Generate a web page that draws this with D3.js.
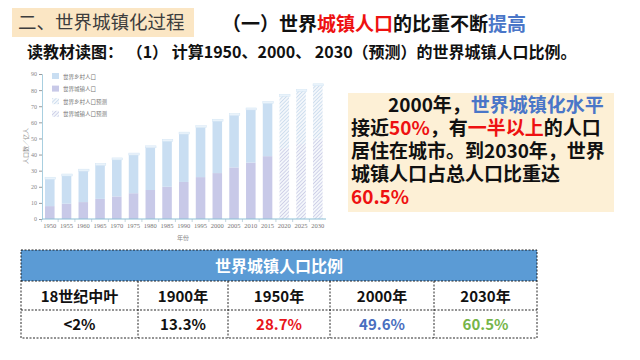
<!DOCTYPE html>
<html>
<head>
<meta charset="utf-8">
<script src="https://cdn.jsdelivr.net/npm/d3@7"></script>
<style>
  body { margin: 0; background: #fff; }
  svg { display: block; }
</style>
</head>
<body>
<div id="viz"></div>
<script>
// data (亿人)
var years = ["1950","1955","1960","1965","1970","1975","1980","1985","1990","1995","2000","2005","2010","2015","2020","2025","2030"];
var urban = [8, 9.5, 10.5, 12.5, 14, 16, 18, 20, 23, 26, 28.5, 32, 35, 39, 44, 46.5, 50];
var rural = [17, 17.5, 19.5, 21, 23, 24, 26.5, 28.5, 30, 31, 32.5, 32.5, 33, 33, 32.5, 33, 33];
var projected = ["2020","2025","2030"];
var yTicks = [0,10,20,30,40,50,60,70,80,90];
var legendItems = ["世界乡村人口","世界城镇人口","世界乡村人口预测","世界城镇人口预测"];

var tableHead = ["18世纪中叶","1900年","1950年","2000年","2030年"];
var tableVals = ["<2%","13.3%","28.7%","49.6%","60.5%"];
var tableColors = ["#111","#111","#e8141b","#4a6fc0","#76b54a"];

var cjk = "'Noto Sans CJK SC','Noto Sans',sans-serif";

var svg = d3.select("#viz")
    .append("svg")
    .attr("width",640)
    .attr("height",360);

var defs = svg.append("defs");
function hatch(id, col){
    var p = defs.append("pattern")
        .attr("id",id)
        .attr("patternUnits","userSpaceOnUse")
        .attr("width",2.6).attr("height",2.6)
        .attr("patternTransform","rotate(45)");
    p.append("rect").attr("width",2.6).attr("height",2.6).attr("fill","#f4f7fb");
    p.append("line").attr("x1",0).attr("y1",0).attr("x2",0).attr("y2",2.6)
        .attr("stroke",col).attr("stroke-width",1.1);
}
hatch("hRural","#b3cde6");
hatch("hUrban","#b7b6dc");

// writes coloured pieces one after another on a line, each as its own text
function colourLine(x0, y0, segs, size){
    var cx = x0;
    segs.forEach(function(seg){
        var tx = svg.append("text").attr("x",cx).attr("y",y0)
            .style("font-family",cjk).style("font-size",size).style("font-weight","bold")
            .attr("fill",seg[1]).text(seg[0]);
        cx += tx.node().getComputedTextLength();
    });
}

// ---- titles
svg.append("rect").attr("x",12).attr("y",8).attr("width",182).attr("height",29).attr("fill","#fbe6c4");
svg.append("text").attr("x",18).attr("y",29)
    .style("font-family",cjk).style("font-size","18.5px").attr("fill","#3d3d3d")
    .text("二、世界城镇化过程");

colourLine(222, 31, [["（一）世界","#111"],["城镇人口","#ee1111"],["的比重不断","#111"],["提高","#4a76c8"]], "19px");

svg.append("text").attr("x",27).attr("y",58)
    .style("font-family",cjk).style("font-size","16px").style("font-weight","bold").attr("fill","#111")
    .text("读教材读图： （1） 计算1950、2000、 2030（预测）的世界城镇人口比例。");

// ---- chart
var x = d3.scaleBand().domain(years).range([41.4,326.2]).paddingInner(0.43).paddingOuter(0.216);
var y = d3.scaleLinear().domain([0,90]).range([219,74]);

var rows = years.map(function(d,i){ return {year:d, urban:urban[i], rural:rural[i]}; });
var stack = d3.stack().keys(["urban","rural"])(rows);

var fills = {
    urban: function(d){ return projected.indexOf(d.data.year) >= 0 ? "url(#hUrban)" : "#c8c9e8"; },
    rural: function(d){ return projected.indexOf(d.data.year) >= 0 ? "url(#hRural)" : "#c9def2"; }
};

var layers = svg.selectAll("g.layer")
    .data(stack)
    .enter()
    .append("g")
    .attr("class","layer");
layers.selectAll("rect")
    .data(function(s){ return s.map(function(d){ d.key = s.key; return d; }); })
    .enter()
    .append("rect")
    .attr("x",function(d){ return x(d.data.year); })
    .attr("y",function(d){ return y(d[1]); })
    .attr("width",x.bandwidth())
    .attr("height",function(d){ return y(d[0]) - y(d[1]); })
    .attr("fill",function(d){ return fills[d.key](d); });

// light top cap of each bar
svg.selectAll("rect.cap")
    .data(rows)
    .enter()
    .append("rect")
    .attr("class","cap")
    .attr("x",function(d){ return x(d.year); })
    .attr("y",function(d){ return y(d.urban + d.rural) - 1.5; })
    .attr("width",x.bandwidth() + 1)
    .attr("height",2)
    .attr("fill","#eaf3fb")
    .attr("stroke","#d3e5f4")
    .attr("stroke-width",0.5);

// y axis
var yAxis = svg.append("g")
    .attr("transform","translate(42,0)")
    .call(d3.axisLeft(y).tickValues(yTicks).tickSize(3).tickPadding(2));
yAxis.select(".domain").attr("stroke","#a8cfe0");
yAxis.selectAll(".tick line").attr("stroke","#9a9a9a");
yAxis.selectAll("text").style("font-family","'Liberation Serif',serif").style("font-size","6px").attr("fill","#888");

// x axis
var xAxis = svg.append("g")
    .attr("transform","translate(0,219)")
    .call(d3.axisBottom(x).tickSize(0).tickPadding(4));
xAxis.select(".domain").attr("d","M42,0H326").attr("stroke","#8cc0d6").attr("stroke-width",1.2);
xAxis.selectAll("text").style("font-family","'Liberation Serif',serif").style("font-size","6.5px").attr("fill","#777");
xAxis.selectAll("line.sep")
    .data(years)
    .enter()
    .append("line")
    .attr("class","sep")
    .attr("x1",function(d){ return x(d) - x.step()*0.216; })
    .attr("x2",function(d){ return x(d) - x.step()*0.216; })
    .attr("y1",0).attr("y2",3)
    .attr("stroke","#9ab8c8").attr("stroke-width",0.6);

svg.append("text").attr("x",183).attr("y",240).attr("text-anchor","middle")
    .style("font-family",cjk).style("font-size","6px").attr("fill","#888").text("年份");
svg.append("text")
    .attr("transform","translate(28,146) rotate(-90)")
    .attr("text-anchor","middle")
    .style("font-family",cjk).style("font-size","6px").attr("fill","#888")
    .text("人口数／亿人");

// legend
var legendFill = ["#c9def2","#c8c9e8","url(#hRural)","url(#hUrban)"];
var lg = svg.selectAll("g.lg")
    .data(legendItems)
    .enter()
    .append("g")
    .attr("class","lg")
    .attr("transform",function(d,i){ return "translate(52," + (73 + i*12.6) + ")"; });
lg.append("rect").attr("width",7).attr("height",6)
    .attr("fill",function(d,i){ return legendFill[i]; });
lg.append("text").attr("x",11).attr("y",5.5)
    .style("font-family",cjk).style("font-size","5.5px").attr("fill","#777")
    .text(function(d){ return d; });

// ---- note box
svg.append("rect").attr("x",348).attr("y",93).attr("width",266).attr("height",119).attr("fill","#fdf0d6");
var noteLines = [
    [["2000年，","#111"],["世界城镇化水平","#4a76c8"]],
    [["接近","#111"],["50%","#ee1111"],["，有","#111"],["一半以上","#ee1111"],["的人口","#111"]],
    [["居住在城市。到2030年，世界","#111"]],
    [["城镇人口占总人口比重达","#111"]],
    [["60.5%","#ee1111"]]
];
noteLines.forEach(function(line,i){
    colourLine(i === 0 ? 388 : 351, 112 + i*23, line, "19px");
});

// ---- table
var colX = [21,138,228,330,434,537];
svg.append("rect").attr("x",21).attr("y",250).attr("width",516).attr("height",31).attr("fill","#5b9bd5");
svg.append("text").attr("x",279).attr("y",272).attr("text-anchor","middle")
    .style("font-family",cjk).style("font-size","16px").style("font-weight","bold").attr("fill","#fff")
    .text("世界城镇人口比例");

var grid = svg.append("g").attr("stroke","#111").attr("stroke-width",0.9).attr("stroke-dasharray","2,1.5").attr("fill","none");
grid.append("rect").attr("x",21).attr("y",250).attr("width",516).attr("height",88);
[281,310].forEach(function(yy){
    grid.append("line").attr("x1",21).attr("x2",537).attr("y1",yy).attr("y2",yy);
});
colX.slice(1,5).forEach(function(xx){
    grid.append("line").attr("x1",xx).attr("x2",xx).attr("y1",281).attr("y2",338);
});

svg.selectAll("text.th")
    .data(tableHead)
    .enter()
    .append("text")
    .attr("class","th")
    .attr("x",function(d,i){ return (colX[i] + colX[i+1]) / 2; })
    .attr("y",302)
    .attr("text-anchor","middle")
    .style("font-family",cjk).style("font-size","15px").style("font-weight","bold").attr("fill","#111")
    .text(function(d){ return d; });
svg.selectAll("text.tv")
    .data(tableVals)
    .enter()
    .append("text")
    .attr("class","tv")
    .attr("x",function(d,i){ return (colX[i] + colX[i+1]) / 2; })
    .attr("y",330)
    .attr("text-anchor","middle")
    .style("font-family",cjk).style("font-size","15px").style("font-weight","bold")
    .attr("fill",function(d,i){ return tableColors[i]; })
    .text(function(d){ return d; });
</script>
</body>
</html>
